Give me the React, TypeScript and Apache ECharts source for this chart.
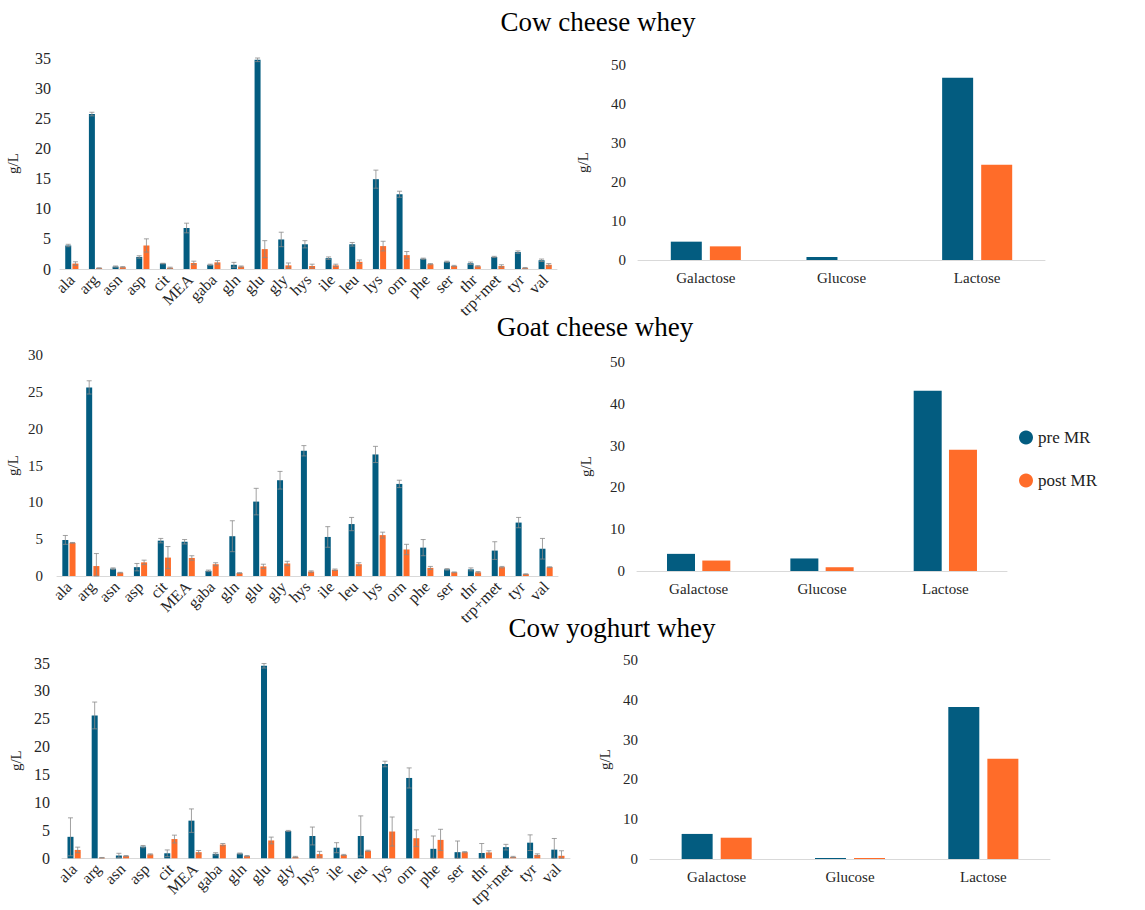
import React, { useEffect, useRef } from 'react';
import * as echarts from 'echarts';

const aminoAcids = ['ala', 'arg', 'asn', 'asp', 'cit', 'MEA', 'gaba', 'gln', 'glu', 'gly', 'hys', 'ile', 'leu', 'lys', 'orn', 'phe', 'ser', 'thr', 'trp+met', 'tyr', 'val'];
const sugars = ['Galactose', 'Glucose', 'Lactose'];

// Cow cheese whey — amino acids (g/L)
const cowCheesePre = [3.9, 25.7, 0.4, 2.0, 0.9, 6.8, 0.7, 0.7, 34.7, 4.9, 4.1, 1.8, 4.1, 14.9, 12.4, 1.7, 1.2, 0.95, 2.0, 2.8, 1.45];
const cowCheesePreErr = [0.2, 0.3, 0.1, 0.2, 0.05, 0.8, 0.1, 0.4, 0.3, 1.2, 0.6, 0.2, 0.3, 1.5, 0.5, 0.1, 0.1, 0.2, 0.1, 0.2, 0.2];
const cowCheesePost = [0.9, 0.15, 0.3, 3.9, 0.2, 1.0, 1.1, 0.4, 3.3, 0.6, 0.5, 0.6, 1.2, 3.8, 2.3, 0.8, 0.5, 0.45, 0.5, 0.15, 0.7];
const cowCheesePostErr = [0.3, 0.05, 0.1, 1.1, 0.1, 0.3, 0.3, 0.1, 1.4, 0.4, 0.3, 0.2, 0.3, 0.8, 0.6, 0.1, 0.1, 0.1, 0.2, 0.1, 0.2];

// Goat cheese whey — amino acids (g/L)
const goatCheesePre = [4.9, 25.6, 1.0, 1.2, 4.8, 4.65, 0.7, 5.4, 10.1, 13.0, 17.0, 5.3, 7.05, 16.5, 12.5, 3.85, 0.9, 0.9, 3.45, 7.25, 3.7];
const goatCheesePreErr = [0.6, 0.9, 0.1, 0.5, 0.3, 0.3, 0.1, 2.1, 1.8, 1.2, 0.7, 1.4, 0.9, 1.1, 0.5, 1.1, 0.1, 0.2, 1.2, 0.7, 1.4];
const goatCheesePost = [4.5, 1.35, 0.45, 1.85, 2.5, 2.45, 1.6, 0.4, 1.3, 1.7, 0.6, 0.85, 1.6, 5.55, 3.6, 1.1, 0.5, 0.5, 1.2, 0.25, 1.2];
const goatCheesePostErr = [0.05, 1.7, 0.05, 0.3, 1.5, 0.3, 0.2, 0.05, 0.3, 0.3, 0.1, 0.1, 0.2, 0.4, 0.7, 0.2, 0.05, 0.1, 0.1, 0.05, 0.05];

// Cow yoghurt whey — amino acids (g/L)
const cowYoghurtPre = [3.85, 25.6, 0.5, 2.1, 0.9, 6.75, 0.8, 0.85, 34.5, 4.9, 4.0, 1.9, 4.0, 16.9, 14.4, 1.7, 1.1, 0.95, 2.0, 2.8, 1.55];
const cowYoghurtPreErr = [3.4, 2.4, 0.4, 0.2, 0.6, 2.1, 0.2, 0.1, 0.4, 0.1, 1.6, 0.9, 3.6, 0.5, 1.8, 2.3, 2.0, 1.7, 0.5, 1.4, 2.0];
const cowYoghurtPost = [1.5, 0.1, 0.4, 0.7, 3.45, 1.1, 2.45, 0.4, 3.2, 0.25, 0.75, 0.6, 1.35, 4.8, 3.6, 3.3, 1.1, 1.05, 0.25, 0.6, 0.45];
const cowYoghurtPostErr = [0.5, 0.05, 0.1, 0.1, 0.7, 0.3, 0.2, 0.1, 0.6, 0.1, 0.5, 0.1, 0.1, 2.6, 1.5, 1.9, 0.1, 0.3, 0.1, 0.2, 0.9];

// Sugars (g/L)
const cowCheeseSugarPre = [4.7, 0.77, 46.7];
const cowCheeseSugarPost = [3.5, 0, 24.4];
const goatCheeseSugarPre = [4.1, 3.0, 43.1];
const goatCheeseSugarPost = [2.5, 0.9, 29.0];
const cowYoghurtSugarPre = [6.3, 0.25, 38.2];
const cowYoghurtSugarPost = [5.35, 0.25, 25.2];

const panelTitles = ['Cow cheese whey', 'Goat cheese whey', 'Cow yoghurt whey'];
const aaMax = [35, 30, 35];
const sugarMax = 50;

const PRE = '#035C80';
const POST = '#FF6C29';
const ERR = '#8a8a8a';
const AXIS = '#d9d9d9';
const TXT = '#262626';
const FONT = 'Liberation Serif, Times New Roman, serif';

export default function App() {
  const ref = useRef<HTMLDivElement>(null);

  useEffect(() => {
    const chart = echarts.init(ref.current!, null, { renderer: 'svg' });

    const aaGrids = [
      { left: 60, top: 58, width: 497, height: 211 },
      { left: 57, top: 355, width: 501, height: 221 },
      { left: 62, top: 663, width: 508, height: 197 },
    ];
    const sugarGrids = [
      { left: 638, top: 65, width: 407, height: 195 },
      { left: 637, top: 362, width: 370, height: 209 },
      { left: 650, top: 660, width: 400, height: 199 },
    ];
    const aaNameGap = [40, 37, 39];
    const sugarNameGap = [48, 44, 38];
    const aaLabelMargin = [9, 14, 12];
    const aaLabelSize = [16, 15, 16];
    const sugarBarW = [31, 28, 31];
    const titleY = [22, 327, 628];
    const titleX = [598, 595, 612];

    const aaData = [
      [cowCheesePre, cowCheesePreErr, cowCheesePost, cowCheesePostErr],
      [goatCheesePre, goatCheesePreErr, goatCheesePost, goatCheesePostErr],
      [cowYoghurtPre, cowYoghurtPreErr, cowYoghurtPost, cowYoghurtPostErr],
    ];
    const sugarData = [
      [cowCheeseSugarPre, cowCheeseSugarPost],
      [goatCheeseSugarPre, goatCheeseSugarPost],
      [cowYoghurtSugarPre, cowYoghurtSugarPost],
    ];

    const grids: any[] = [];
    const xAxes: any[] = [];
    const yAxes: any[] = [];
    const series: any[] = [];

    const AA_BAR_W = 6;
    const AA_GAP = 1.2;
    const makeErr = (offset: number) => (params: any, api: any) => {
      const i = api.value(0);
      const v = api.value(1);
      const e = api.value(2);
      if (!e) return null;
      const hi = api.coord([i, v + e]);
      const lo = api.coord([i, Math.max(0, v - e)]);
      const x = hi[0] + offset;
      const c = 2.5;
      const style = { stroke: ERR, lineWidth: 0.8, fill: null };
      return {
        type: 'group',
        children: [
          { type: 'line', shape: { x1: x, y1: hi[1], x2: x, y2: lo[1] }, style },
          { type: 'line', shape: { x1: x - c, y1: hi[1], x2: x + c, y2: hi[1] }, style },
          { type: 'line', shape: { x1: x - c, y1: lo[1], x2: x + c, y2: lo[1] }, style },
        ],
      };
    };

    for (let p = 0; p < 3; p++) {
      const gi = grids.length;
      grids.push({ ...aaGrids[p], containLabel: false });
      xAxes.push({
        type: 'category',
        gridIndex: gi,
        data: aminoAcids,
        axisLine: { lineStyle: { color: AXIS, width: 1 } },
        axisTick: { show: false },
        axisLabel: { rotate: 45, interval: 0, margin: 8, fontSize: 16, fontFamily: FONT, color: TXT },
      });
      yAxes.push({
        type: 'value',
        gridIndex: gi,
        min: 0,
        max: aaMax[p],
        interval: 5,
        name: 'g/L',
        nameLocation: 'middle',
        nameRotate: 90,
        nameGap: aaNameGap[p],
        nameTextStyle: { fontSize: 15, fontFamily: FONT, color: TXT },
        axisLine: { show: false },
        axisTick: { show: false },
        splitLine: { show: false },
        axisLabel: { margin: aaLabelMargin[p], fontSize: aaLabelSize[p], fontFamily: FONT, color: TXT },
      });
      const [pre, preErr, post, postErr] = aaData[p];
      series.push({
        type: 'bar', name: 'pre MR', xAxisIndex: gi, yAxisIndex: gi, data: pre,
        barWidth: AA_BAR_W, itemStyle: { color: PRE },
      });
      series.push({
        type: 'bar', name: 'post MR', xAxisIndex: gi, yAxisIndex: gi, data: post,
        barWidth: AA_BAR_W, barGap: '20%', itemStyle: { color: POST },
      });
      const off = (AA_BAR_W + AA_GAP) / 2;
      series.push({
        type: 'custom', name: 'err-pre', xAxisIndex: gi, yAxisIndex: gi, z: 5,
        encode: { x: 0, y: 1 },
        data: aminoAcids.map((_, i) => [i, pre[i], preErr[i]]),
        renderItem: makeErr(-off),
      });
      series.push({
        type: 'custom', name: 'err-post', xAxisIndex: gi, yAxisIndex: gi, z: 5,
        encode: { x: 0, y: 1 },
        data: aminoAcids.map((_, i) => [i, post[i], postErr[i]]),
        renderItem: makeErr(off),
      });

      const si = grids.length;
      grids.push({ ...sugarGrids[p], containLabel: false });
      xAxes.push({
        type: 'category',
        gridIndex: si,
        data: sugars,
        axisLine: { lineStyle: { color: AXIS, width: 1 } },
        axisTick: { show: false },
        axisLabel: { margin: 10, fontSize: 15, fontFamily: FONT, color: TXT },
      });
      yAxes.push({
        type: 'value',
        gridIndex: si,
        min: 0,
        max: sugarMax,
        interval: 10,
        name: 'g/L',
        nameLocation: 'middle',
        nameRotate: 90,
        nameGap: sugarNameGap[p],
        nameTextStyle: { fontSize: 15, fontFamily: FONT, color: TXT },
        axisLine: { show: false },
        axisTick: { show: false },
        splitLine: { show: false },
        axisLabel: { margin: 12, fontSize: 15, fontFamily: FONT, color: TXT },
      });
      const [sPre, sPost] = sugarData[p];
      series.push({
        type: 'bar', name: 'pre MR', xAxisIndex: si, yAxisIndex: si, data: sPre,
        barWidth: sugarBarW[p], itemStyle: { color: PRE },
      });
      series.push({
        type: 'bar', name: 'post MR', xAxisIndex: si, yAxisIndex: si, data: sPost,
        barWidth: sugarBarW[p], barGap: '26%', itemStyle: { color: POST },
      });
    }

    const option: any = {
      animation: false,
      backgroundColor: '#ffffff',
      textStyle: { fontFamily: FONT },
      grid: grids,
      xAxis: xAxes,
      yAxis: yAxes,
      series,
      legend: {
        data: ['pre MR', 'post MR'],
        orient: 'vertical',
        left: 1014,
        top: 424,
        icon: 'circle',
        itemWidth: 14,
        itemHeight: 14,
        itemGap: 26,
        textStyle: { fontSize: 17, fontFamily: FONT, color: '#222' },
      },
      graphic: panelTitles.map((t, i) => ({
        type: 'text',
        x: titleX[i],
        y: titleY[i],
        style: {
          text: t,
          fontSize: 27,
          fontFamily: FONT,
          fill: '#000',
          textAlign: 'center',
          textVerticalAlign: 'middle',
          align: 'center',
          verticalAlign: 'middle',
        },
      })),
    };

    chart.setOption(option);
    return () => chart.dispose();
  }, []);

  return (
    <div
      ref={ref}
      style={{ position: 'fixed', left: 0, top: 0, width: 1145, height: 910, background: '#fff' }}
    />
  );
}
